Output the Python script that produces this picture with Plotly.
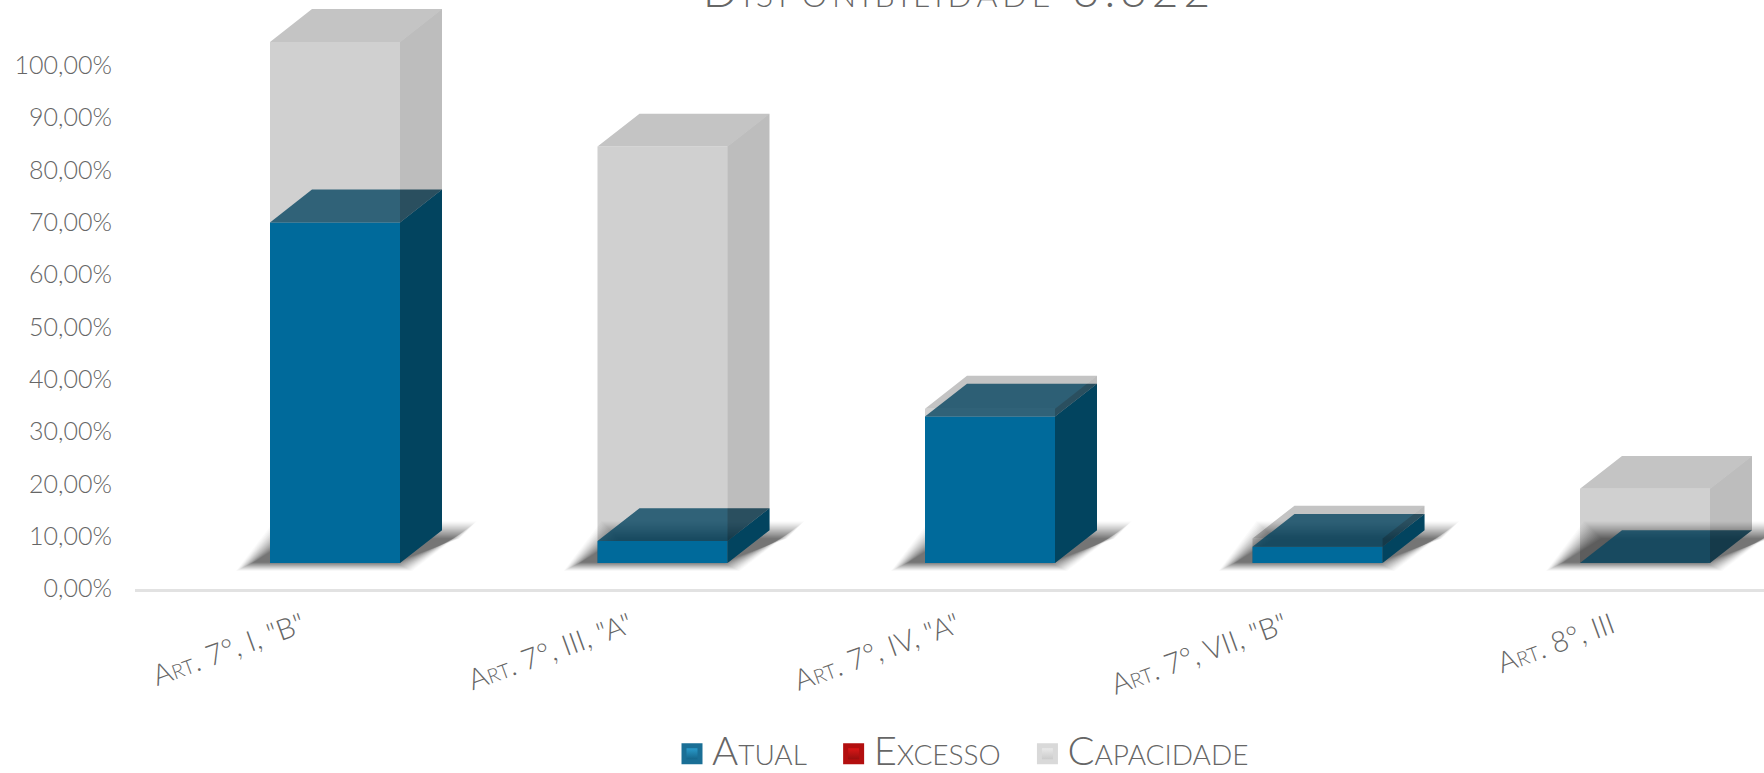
import plotly.graph_objects as go

categories = ['Art. 7°, I, "B"', 'Art. 7°, III, "A"', 'Art. 7°, IV, "A"', 'Art. 7°, VII, "B"', 'Art. 8°, III']
atual = [65.1, 4.2, 28.0, 3.1, 0.0]
excesso = [0.0, 0.0, 0.0, 0.0, 0.0]
capacidade = [99.6, 79.6, 29.5, 4.7, 14.2]
y_ticks = [0, 10, 20, 30, 40, 50, 60, 70, 80, 90, 100]
y_labels = ["0,00%", "10,00%", "20,00%", "30,00%", "40,00%", "50,00%", "60,00%", "70,00%", "80,00%", "90,00%", "100,00%"]
title_text = "Disponibilidade 3.322"

# pixel-to-data factors for the fake-3D geometry
W, H = 1764, 773
AXIS_PX_Y = 591.7
LEFT_PX = 135
STEP_PX = 327.5
FIRST_PX = 298
Y_PX = 5.26
PX = 1 / STEP_PX
PY = 1 / Y_PX
OFFSET = 37 * PX
BAR_W = 130 * PX
DX = 42 * PX
DY = 33 * PY
FLOOR = 25.7 * PY
FONT = "Lato"
TXT = "#666666"


def poly(polys):
    xs, ys = [], []
    for p in polys:
        xs += [a for a, _ in p] + [p[0][0], None]
        ys += [b for _, b in p] + [p[0][1], None]
    return xs, ys


def face(which, i, lo, hi):
    L = i + OFFSET - BAR_W / 2
    R = L + BAR_W
    b, t = FLOOR + lo, FLOOR + hi
    if which == "front":
        return [(L, b), (R, b), (R, t), (L, t)]
    if which == "top":
        return [(L, t), (R, t), (R + DX, t + DY), (L + DX, t + DY)]
    return [(R, b), (R + DX, b + DY), (R + DX, t + DY), (R, t)]


def add(fig, polys, color, name):
    xs, ys = poly(polys)
    fig.add_trace(go.Scatter(x=xs, y=ys, mode="lines", fill="toself", fillcolor=color,
                             line=dict(width=0), hoverinfo="skip", showlegend=False, name=name))


def shadow(i, e):
    L = i + OFFSET - BAR_W / 2
    base = FLOOR
    bot = -3 - 0.5 * e
    top = 32 + e
    return [(L + (-24 - e) * PX, base + bot * PY), (L + (132 + e) * PX, base + bot * PY),
            (L + (197 + e) * PX, base + top * PY), (L + (14 - e) * PX, base + top * PY)]


fig = go.Figure()
idx = range(len(categories))

add(fig, [face("front", i, 0, capacidade[i]) for i in idx], "#d0d0d0", "Capacidade frente")
add(fig, [face("top", i, 0, capacidade[i]) for i in idx], "#c4c4c4", "Capacidade topo")

for e in range(10, -8, -1):
    add(fig, [shadow(i, e) for i in idx], f"rgba(0,0,0,{0.019 + 0.0025 * (10 - e):.4f})", "Sombra")

add(fig, [face("front", i, 0, atual[i]) for i in idx if atual[i] > 0], "#006a9b", "Atual frente")
add(fig, [face("side", i, 0, atual[i]) for i in idx if atual[i] > 0], "#035c80", "Atual lado")
add(fig, [face("top", i, 0, atual[i]) for i in idx], "rgba(7,70,98,0.8)", "Atual topo")
add(fig, [face("side", i, 0, capacidade[i]) for i in idx], "rgba(0,0,0,0.26)", "Capacidade lado")

PAD = "\u00a0\u00a0"
LEG = '<span style="font-size:40px;baseline-shift:-4px">{}</span>'
legend_items = [("Atual" + PAD, "#1a6f96", "#2fa6d8", "#0f5a7d", atual),
                ("Excesso" + PAD, "#b30f0f", "#e81a1a", "#8a0c0c", excesso),
                ("Capacidade", "#d9d9d9", "#efefef", "#c4c4c4", capacidade)]
for name, line_c, top_c, bot_c, vals in legend_items:
    fig.add_trace(go.Scatter(x=[None], y=[None], mode="markers", name=LEG.format(name), hoverinfo="skip",
                             marker=dict(symbol="square", size=16, color=top_c,
                                         gradient=dict(type="vertical", color=bot_c),
                                         line=dict(color=line_c, width=5))))

fig.update_layout(
    width=W, height=H, autosize=False,
    margin=dict(l=0, r=0, t=0, b=0, pad=0),
    paper_bgcolor="white", plot_bgcolor="white",
    title=dict(text=f'<span style="letter-spacing:5px">{title_text}</span>',
               x=959 / W, xanchor="center", xref="container", y=1 - 7 / H, yanchor="bottom", yref="container",
               font=dict(family=FONT, size=46, color="#666666", weight=300, variant="small-caps")),
    xaxis=dict(domain=[LEFT_PX / W, 1], range=[(LEFT_PX - FIRST_PX) / STEP_PX, (W - FIRST_PX) / STEP_PX],
               automargin=False,
               tickmode="array", tickvals=list(idx), ticktext=categories, tickangle=-20,
               showgrid=False, zeroline=False, showline=True, linecolor="#e2e2e2", linewidth=3,
               ticks="", ticklabelstandoff=6, ticklabelshift=4,
               tickfont=dict(family=FONT, size=29, color=TXT, weight=300, variant="small-caps")),
    yaxis=dict(domain=[(H - AXIS_PX_Y) / H, 1], range=[0, AXIS_PX_Y / Y_PX], tickmode="array",
               automargin=False,
               tickvals=y_ticks, ticktext=y_labels,
               showgrid=False, zeroline=False, showline=False, ticks="", ticklabelstandoff=22,
               tickfont=dict(family=FONT, size=25, color=TXT, weight=300)),
    legend=dict(orientation="h", x=963 / W, xanchor="center",
                y=(H - 758) / H, yanchor="middle", itemclick=False, itemdoubleclick=False,
                font=dict(family=FONT, size=18, color=TXT, weight=300, variant="small-caps")),
)

fig.write_html("out.html", config={"displayModeBar": False}, post_script="document.body.style.margin='0';")
